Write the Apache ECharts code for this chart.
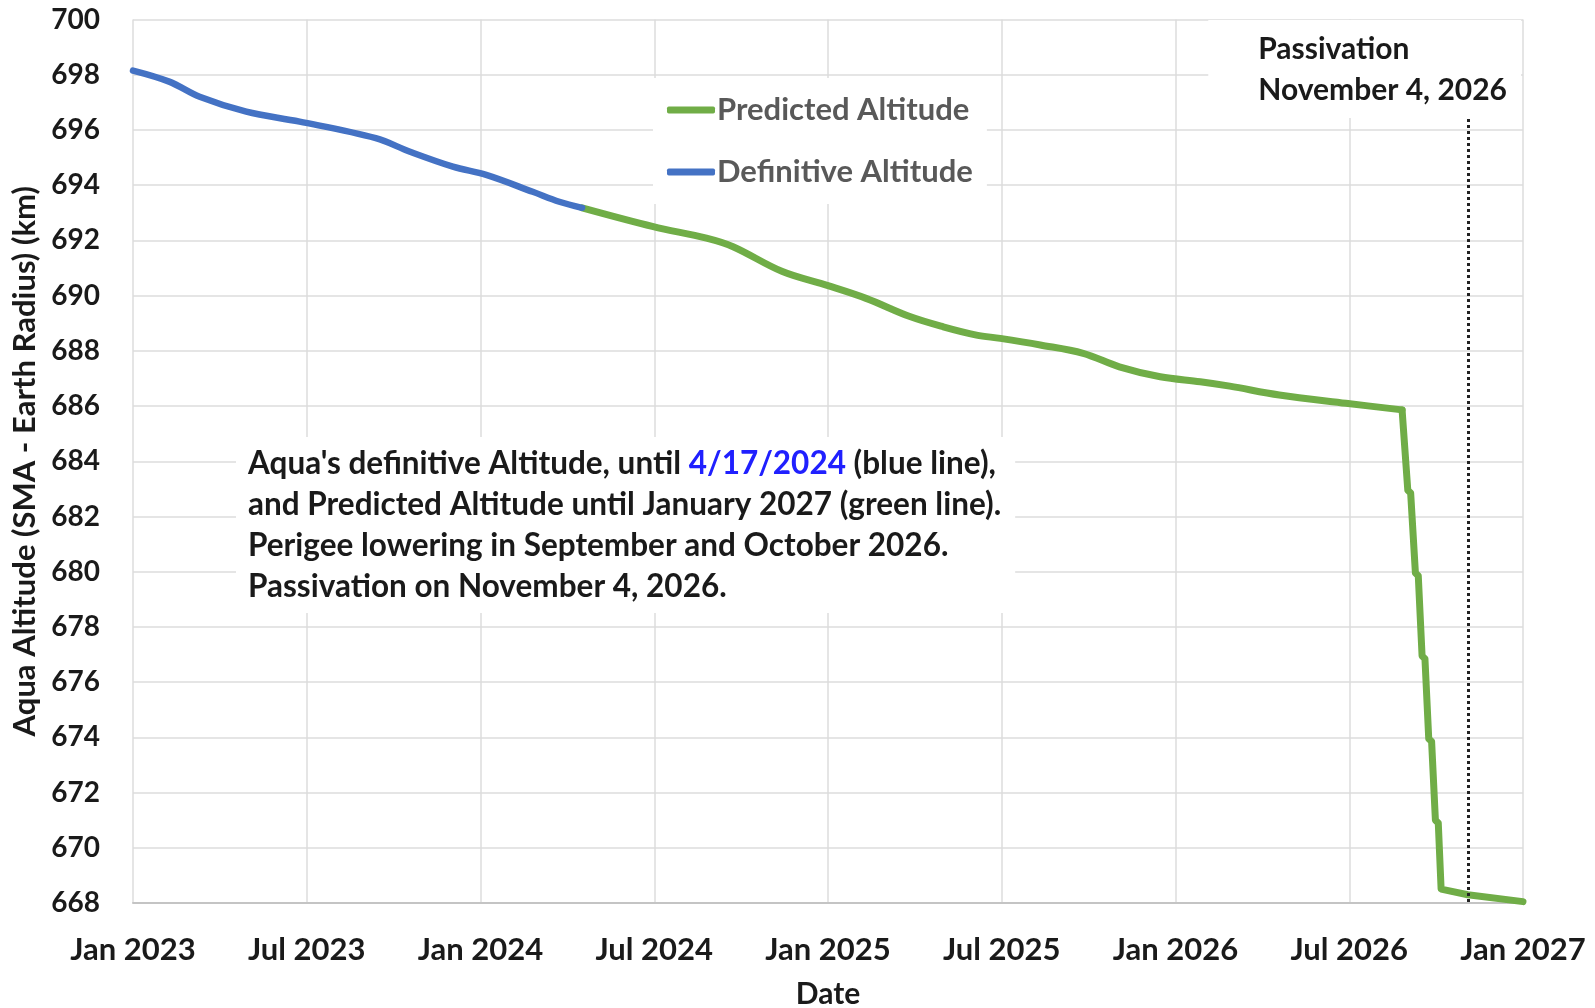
<!DOCTYPE html>
<html>
<head>
<meta charset="utf-8">
<script src="https://cdn.jsdelivr.net/npm/echarts@6/dist/echarts.min.js"></script>
<style>
  html, body { margin: 0; padding: 0; background: #fff; }
  #chart { width: 1595px; height: 1008px; }
</style>
</head>
<body>
<div id="chart"></div>
<script>
// definitive altitude (blue), until 4/17/2024
const definitiveDates = ['2023-01-01', '2023-02-08', '2023-03-12', '2023-04-30', '2023-06-25', '2023-09-13',
  '2023-10-19', '2023-12-03', '2024-01-07', '2024-02-25', '2024-03-24', '2024-04-17']
const definitiveAlt = [698.15, 697.75, 697.2, 696.66, 696.3, 695.7, 695.21, 694.67, 694.37, 693.76, 693.4, 693.18]

// predicted altitude (green), slow decay part
const predictedDates = ['2024-04-17', '2024-07-01', '2024-08-26', '2024-09-23', '2024-11-14', '2025-01-01',
  '2025-02-10', '2025-03-28', '2025-05-02', '2025-06-06', '2025-07-01', '2025-08-12', '2025-09-26',
  '2025-11-03', '2025-12-16', '2026-01-27', '2026-02-27', '2026-04-20', '2026-06-29', '2026-08-27']
const predictedAlt = [693.18, 692.5, 692.08, 691.77, 690.87, 690.36, 689.9, 689.24, 688.87, 688.57, 688.45,
  688.21, 687.91, 687.42, 687.06, 686.88, 686.72, 686.4, 686.1, 685.86]

// predicted altitude (green), perigee lowering burns and after
const loweringDates = ['2026-08-27', '2026-09-02', '2026-09-05', '2026-09-10', '2026-09-13', '2026-09-17',
  '2026-09-20', '2026-09-24', '2026-09-27', '2026-10-01', '2026-10-04', '2026-10-07', '2026-11-04', '2027-01-01']
const loweringAlt = [685.86, 682.95, 682.85, 679.95, 679.85, 676.95, 676.85, 673.95, 673.85, 671.0, 670.9,
  668.5, 668.3, 668.05]

const passivationDate = '2026-11-04'
const passivationTop = 696.4

const tickMonths = ['Jan', 'Jul']

const font = 'Lato'

// date string -> decimal year
const toYear = (s) => {
  const d = Date.parse(s + 'T00:00:00Z')
  const y = Number(s.slice(0, 4))
  const start = Date.UTC(y, 0, 1)
  const end = Date.UTC(y + 1, 0, 1)
  return y + (d - start) / (end - start)
}

const pairs = (dates, vals) => dates.map((d, i) => [toYear(d), vals[i]])

const chart = echarts.init(document.getElementById('chart'))

const gridColor = '#dcdcdc'
const textColor = '#1a1a1a'
const green = '#70ad47'
const blue = '#4472c4'

chart.setOption({
  animation: false,
  textStyle: { fontFamily: font },
  grid: { left: 133, right: 72, top: 19.5, bottom: 105, outerBoundsMode: 'none', containLabel: false },
  legend: {
    orient: 'vertical',
    left: 653,
    top: 78,
    padding: [15, 14, 15, 14],
    itemGap: 28,
    itemWidth: 48,
    itemHeight: 7,
    backgroundColor: '#fff',
    icon: 'roundRect',
    data: ['Predicted Altitude', 'Definitive Altitude'],
    textStyle: { fontFamily: font, fontSize: 31, fontWeight: 'bold', color: '#595959', lineHeight: 34, padding: [0, 0, 0, -3] },
  },
  xAxis: {
    type: 'value',
    min: 2023,
    max: 2027,
    interval: 0.5,
    name: 'Date',
    nameLocation: 'middle',
    nameGap: 76,
    nameTextStyle: { fontFamily: font, fontSize: 30, fontWeight: 'bold', color: textColor },
    axisLine: { show: true, lineStyle: { color: '#c4c4c4', width: 2 } },
    axisTick: { show: false },
    axisLabel: {
      margin: 31,
      fontFamily: font,
      fontSize: 31,
      fontWeight: 'bold',
      color: textColor,
      formatter: (v) => tickMonths[Math.round((v % 1) * 2)] + ' ' + Math.floor(v),
    },
    splitLine: { show: true, lineStyle: { color: gridColor, width: 1.5 } },
  },
  yAxis: {
    type: 'value',
    min: 668,
    max: 700,
    interval: 2,
    name: 'Aqua Altitude (SMA - Earth Radius) (km)',
    nameLocation: 'middle',
    nameGap: 91,
    nameTextStyle: { fontFamily: font, fontSize: 31, fontWeight: 'bold', color: textColor },
    axisLine: { show: false },
    axisTick: { show: false },
    axisLabel: { margin: 33, fontFamily: font, fontSize: 28, fontWeight: 'bold', color: textColor },
    splitLine: { show: true, lineStyle: { color: gridColor, width: 1.5 } },
  },
  series: [
    {
      name: 'Definitive Altitude',
      type: 'line',
      data: pairs(definitiveDates, definitiveAlt),
      showSymbol: false,
      symbol: 'none',
      smooth: 0.35,
      itemStyle: { color: blue },
      lineStyle: { color: blue, width: 6.5, cap: 'round', join: 'round' },
      z: 3,
    },
    {
      name: 'Predicted Altitude',
      type: 'line',
      data: pairs(predictedDates, predictedAlt),
      showSymbol: false,
      symbol: 'none',
      smooth: 0.35,
      itemStyle: { color: green },
      lineStyle: { color: green, width: 7, cap: 'round', join: 'round' },
      z: 2,
    },
    {
      name: 'Predicted Altitude',
      type: 'line',
      data: pairs(loweringDates, loweringAlt),
      showSymbol: false,
      symbol: 'none',
      itemStyle: { color: green },
      lineStyle: { color: green, width: 7, cap: 'round', join: 'round' },
      z: 2,
      markLine: {
        silent: true,
        symbol: 'none',
        label: { show: false },
        lineStyle: { color: '#222', width: 3, type: [3, 3] },
        data: [[
          { coord: [toYear(passivationDate), passivationTop] },
          { coord: [toYear(passivationDate), 668] },
        ]],
      },
    },
  ],
  graphic: [
    {
      type: 'text',
      left: 236,
      top: 437,
      z: 10,
      style: {
        text: "Aqua's definitive Altitude, until {blue|4/17/2024} (blue line),\nand Predicted Altitude until January 2027 (green line).\nPerigee lowering in September and October 2026.\nPassivation on November 4, 2026.",
        fontFamily: font,
        fontSize: 31.5,
        fontWeight: 'bold',
        fill: textColor,
        lineHeight: 41,
        backgroundColor: '#fff',
        padding: [6, 14, 6, 12],
        rich: {
          blue: { fill: '#2020ff', fontFamily: font, fontSize: 31.5, fontWeight: 'bold', lineHeight: 41 },
        },
      },
    },
    {
      type: 'text',
      right: 74,
      top: 20,
      z: 10,
      style: {
        text: 'Passivation\nNovember 4, 2026',
        align: 'right',
        fontFamily: font,
        fontSize: 30,
        fontWeight: 'bold',
        fill: textColor,
        lineHeight: 41,
        backgroundColor: '#fff',
        padding: [9, 14, 7, 50],
      },
    },
  ],
})
</script>
</body>
</html>
